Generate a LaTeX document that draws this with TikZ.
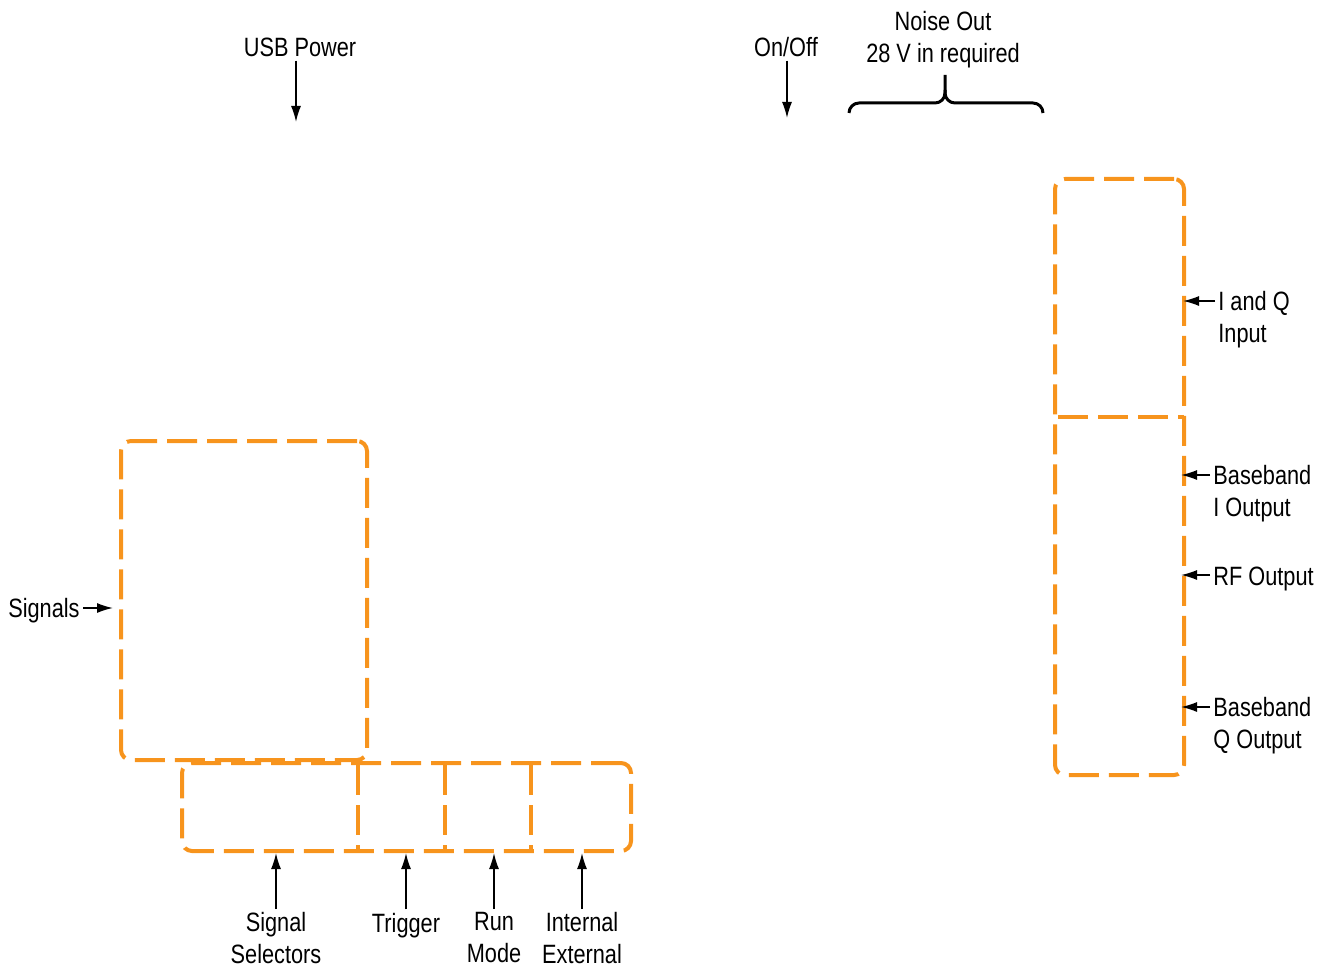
\documentclass[tikz,border=0pt]{standalone}
\usepackage{fontspec}
\setmainfont{Liberation Sans}[FakeStretch=0.82]
\usetikzlibrary{arrows.meta, positioning}
\definecolor{tekorange}{RGB}{247,148,29}

\begin{document}
\begin{tikzpicture}[
    x=0.5pt, y=-0.5pt,
    every node/.style = {font=\fontsize{13.25}{16}\selectfont},
    lbl/.style   = {inner sep=1.5pt, align=center},
    rlbl/.style  = {inner sep=1.5pt, align=left},
    panel/.style = {rectangle, rounded corners=5pt, draw=tekorange,
                    line width=2pt, dash pattern=on 15pt off 5pt},
    divider/.style = {draw=tekorange, line width=2pt, dash pattern=on 15pt off 5pt},
    arr/.style   = {-{Latex[length=8pt,width=5pt]}, line width=0.75pt},
    brace/.style = {line width=1.5pt, rounded corners=5pt}
  ]
  \useasboundingbox (0,0) rectangle (1325,968);

  % panels
  \node[panel, minimum width=123pt, minimum height=159.5pt] (sigpanel) at (244,600.5) {};
  \node[panel, minimum width=224.5pt, minimum height=44pt] (ctrlpanel) at (406.5,807) {};
  \node[panel, minimum width=64.5pt, minimum height=298pt] (outpanel) at (1119.5,477) {};

  \draw[divider] (358,765) -- (358,851);
  \draw[divider] (445,765) -- (445,851);
  \draw[divider] (531,765) -- (531,851);
  \draw[divider] (1058,417) -- (1184,417);

  % labels
  \node[lbl, anchor=base] (usb) at (300,57) {USB Power};
  \node[lbl, anchor=base] (onoff) at (786,57) {On/Off};
  \node[lbl, anchor=north] (noise) at (943,8) {Noise Out\\28 V in required};
  \node[lbl, anchor=base east] (signals) at (83,617) {Signals};

  \node[rlbl, anchor=north west] (iq) at (1215,288) {I and Q\\Input};
  \node[rlbl, anchor=north west] (bbi) at (1210,462) {Baseband\\I Output};
  \node[rlbl, anchor=base west] (rf) at (1210,585) {RF Output};
  \node[rlbl, anchor=north west] (bbq) at (1210,694) {Baseband\\Q Output};

  \node[lbl, anchor=north] (sel) at (276,909) {Signal\\Selectors};
  \node[lbl, anchor=base] (trig) at (406,932) {Trigger};
  \node[lbl, anchor=north] (run) at (494,909) {Run\\Mode};
  \node[lbl, anchor=north] (intext) at (582,909) {Internal\\External};

  % arrow targets
  \coordinate (usbIn) at (296,122);
  \coordinate (onoffIn) at (787,118);
  \coordinate (sigIn) at (113,608);
  \coordinate (iqIn) at (1183,301);
  \coordinate (bbiIn) at (1181,475);
  \coordinate (rfIn) at (1181,575);
  \coordinate (bbqIn) at (1181,707);
  \coordinate (selIn) at (276,853);
  \coordinate (trigIn) at (406,853);
  \coordinate (runIn) at (494,853);
  \coordinate (intextIn) at (582,853);

  % edges
  \draw[arr] (usb.south -| usbIn) -- (usbIn);
  \draw[arr] (onoff.south -| onoffIn) -- (onoffIn);
  \draw[arr] (signals.east |- sigIn) -- (sigIn);
  \draw[arr] (iq.west |- iqIn) -- (iqIn);
  \draw[arr] (bbi.west |- bbiIn) -- (bbiIn);
  \draw[arr] (rf.west |- rfIn) -- (rfIn);
  \draw[arr] (bbq.west |- bbqIn) -- (bbqIn);
  \draw[arr] (sel.north) -- (selIn);
  \draw[arr] (trig.north) -- (trigIn);
  \draw[arr] (run.north) -- (runIn);
  \draw[arr] (intext.north) -- (intextIn);

  % brace under noise label
  \draw[brace] (849,113) -- (849,103) -- (945,103) -- (945,75);
  \draw[brace] (945,90) -- (945,103) -- (1043,103) -- (1043,113);

\end{tikzpicture}
\end{document}
